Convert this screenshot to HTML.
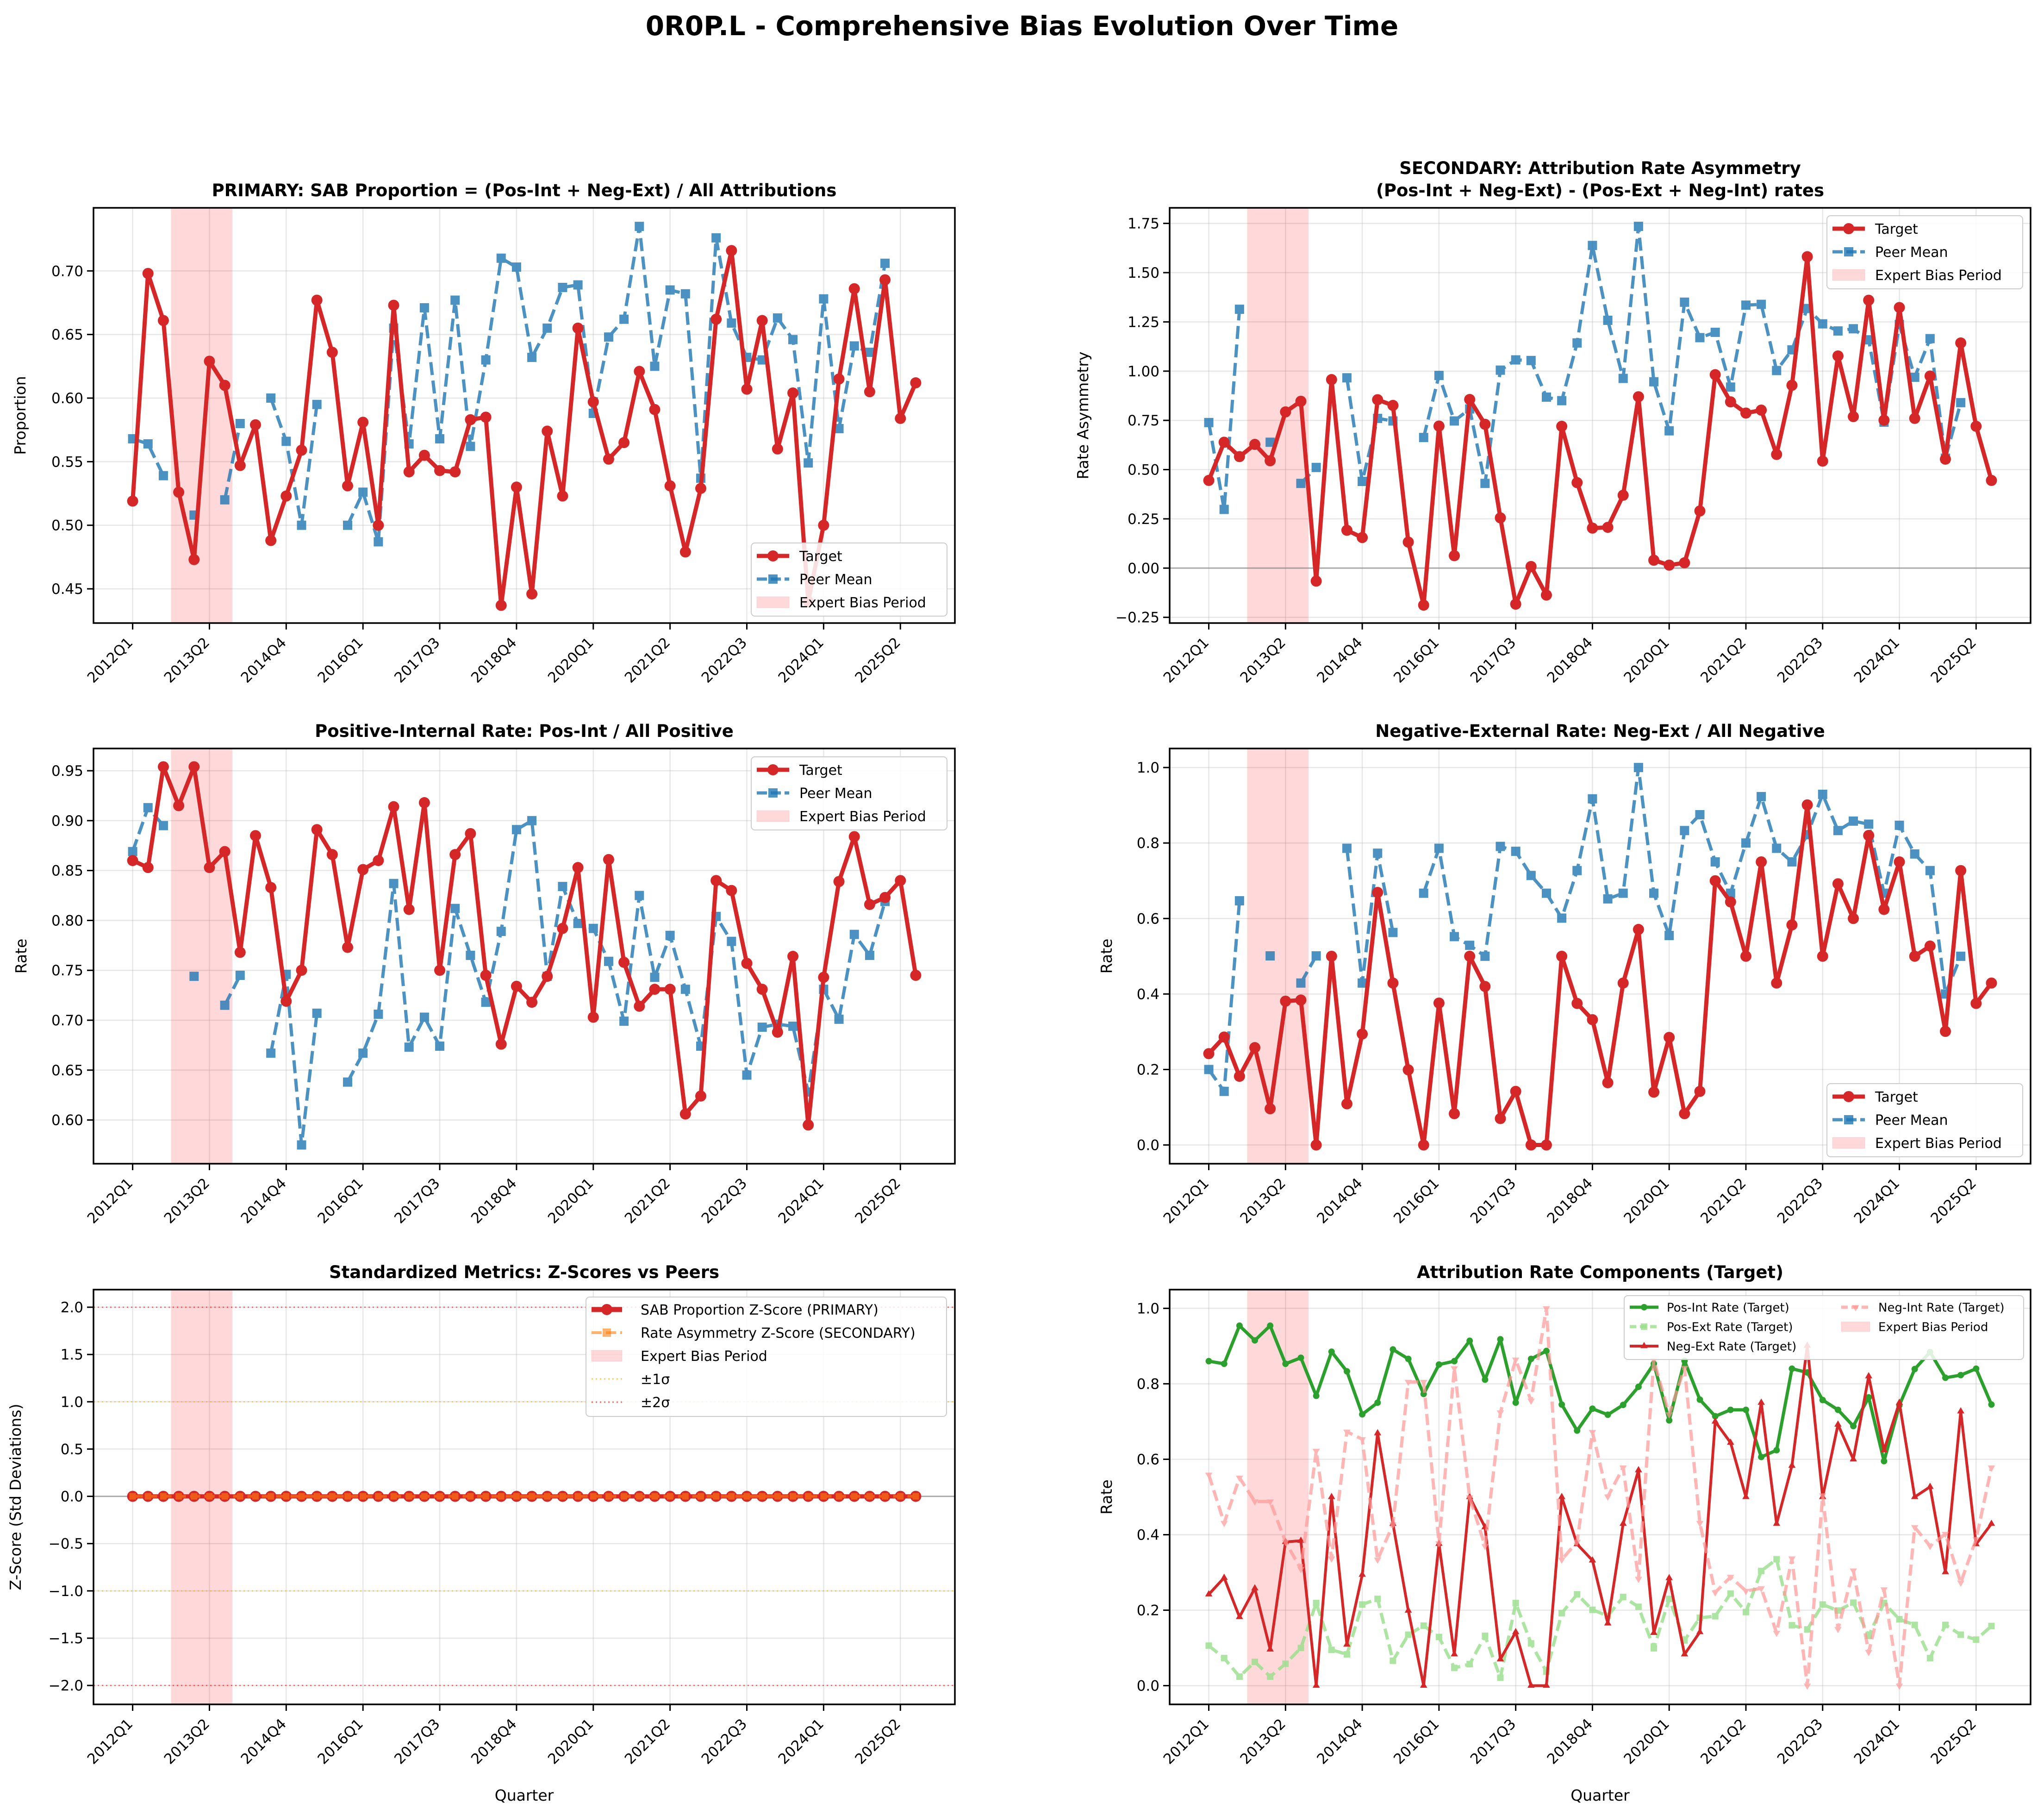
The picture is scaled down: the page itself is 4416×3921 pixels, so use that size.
<!DOCTYPE html>
<html><head><meta charset="utf-8">
<style>
html,body{margin:0;padding:0;background:#fff;}
svg{display:block;font-family:"DejaVu Sans","Liberation Sans",sans-serif;}
</style></head>
<body>
<svg id="fig" xmlns="http://www.w3.org/2000/svg" width="4416" height="3921" viewBox="0 0 4416 3921">
<rect width="4416" height="3921" fill="#fff"/>
<text x="2208" y="76" text-anchor="middle" font-size="58" font-weight="bold">0R0P.L - Comprehensive Bias Evolution Over Time</text>
</svg>
<script>
const tickIdx=[0,5,10,15,20,25,30,35,40,45,50];
const tickLabels=['2012Q1','2013Q2','2014Q4','2016Q1','2017Q3','2018Q4','2020Q1','2021Q2','2022Q3','2024Q1','2025Q2'];
const N=52;
const sabTarget=[0.519,0.698,0.661,0.526,0.473,0.629,0.610,0.547,0.579,0.488,0.523,0.559,0.677,0.636,0.531,0.581,0.500,0.673,0.542,0.555,0.543,0.542,0.583,0.585,0.437,0.530,0.446,0.574,0.523,0.655,0.597,0.552,0.565,0.621,0.591,0.531,0.479,0.529,0.662,0.716,0.607,0.661,0.560,0.604,0.440,0.500,0.615,0.686,0.605,0.693,0.584,0.612];
const sabPeer=[0.568,0.564,0.539,null,0.508,null,0.520,0.580,null,0.600,0.566,0.500,0.595,null,0.500,0.526,0.487,0.655,0.564,0.671,0.568,0.677,0.562,0.630,0.710,0.703,0.632,0.655,0.687,0.689,0.588,0.648,0.662,0.735,0.625,0.685,0.682,0.537,0.726,0.659,0.632,0.630,0.663,0.646,0.549,0.678,0.576,0.641,0.636,0.706,null,null];
const asymTarget=[0.445,0.639,0.566,0.628,0.545,0.793,0.847,-0.066,0.957,0.192,0.155,0.855,0.826,0.132,-0.188,0.721,0.063,0.856,0.730,0.255,-0.183,0.008,-0.137,0.720,0.434,0.203,0.207,0.370,0.870,0.040,0.015,0.027,0.290,0.982,0.844,0.787,0.802,0.577,0.928,1.581,0.543,1.077,0.769,1.360,0.751,1.323,0.760,0.975,0.553,1.143,0.720,0.445];
const asymPeer=[0.739,0.298,1.314,null,0.639,null,0.430,0.511,null,0.966,0.440,0.760,0.747,null,0.663,0.978,0.747,0.808,0.430,1.005,1.057,1.054,0.868,0.850,1.143,1.638,1.258,0.963,1.735,0.946,0.697,1.350,1.170,1.197,0.919,1.335,1.339,1.003,1.108,1.318,1.240,1.204,1.215,1.159,0.741,1.237,0.969,1.165,0.558,0.840,null,null];
const posIntTarget=[0.860,0.853,0.954,0.915,0.954,0.853,0.869,0.768,0.885,0.833,0.719,0.750,0.891,0.866,0.773,0.851,0.860,0.914,0.811,0.918,0.750,0.866,0.887,0.745,0.676,0.734,0.718,0.744,0.792,0.853,0.703,0.861,0.758,0.714,0.731,0.731,0.606,0.624,0.840,0.830,0.757,0.731,0.688,0.764,0.595,0.743,0.839,0.884,0.816,0.823,0.840,0.745];
const posIntPeer=[0.869,0.913,0.895,null,0.744,null,0.715,0.745,null,0.667,0.746,0.575,0.707,null,0.638,0.667,0.706,0.837,0.673,0.703,0.674,0.812,0.765,0.718,0.789,0.891,0.900,0.744,0.834,0.797,0.792,0.759,0.699,0.825,0.743,0.785,0.731,0.674,0.804,0.779,0.645,0.693,0.696,0.694,0.628,0.731,0.701,0.786,0.765,0.819,null,null];
const negExtTarget=[0.242,0.286,0.182,0.258,0.096,0.381,0.384,0,0.500,0.109,0.294,0.669,0.429,0.199,0,0.376,0.083,0.500,0.420,0.070,0.142,0,0,0.500,0.375,0.332,0.165,0.429,0.571,0.140,0.285,0.083,0.142,0.700,0.644,0.500,0.750,0.429,0.583,0.901,0.500,0.692,0.600,0.820,0.624,0.750,0.500,0.527,0.301,0.727,0.375,0.429];
const negExtPeer=[0.200,0.142,0.647,null,0.501,null,0.429,0.501,null,0.786,0.429,0.773,0.563,null,0.667,0.786,0.552,0.529,0.500,0.791,0.778,0.714,0.667,0.601,0.727,0.917,0.652,0.667,1.0,0.667,0.555,0.833,0.875,0.750,0.667,0.800,0.923,0.786,0.750,0.822,0.929,0.833,0.858,0.850,0.667,0.847,0.771,0.727,0.400,0.500,null,null];
const posExtTarget=[0.106,0.073,0.024,0.063,0.024,0.058,0.100,0.219,0.095,0.083,0.215,0.230,0.066,0.135,0.159,0.129,0.047,0.057,0.132,0.021,0.219,0.112,0.037,0.192,0.242,0.201,0.185,0.235,0.209,0.099,0.230,0.120,0.180,0.184,0.244,0.195,0.304,0.335,0.160,0.149,0.215,0.199,0.220,0.132,0.219,0.176,0.161,0.073,0.161,0.135,0.122,0.158];
const negIntTarget=[0.559,0.431,0.551,0.488,0.488,0.381,0.309,0.622,0.337,0.673,0.653,0.334,0.427,0.805,0.805,0.377,0.841,0.499,0.370,0.724,0.864,0.755,1.0,0.334,0.381,0.672,0.501,0.578,0.283,0.863,0.719,0.842,0.431,0.247,0.288,0.251,0.258,0.140,0.337,0.0,0.504,0.150,0.305,0.089,0.255,0.0,0.420,0.370,0.402,0.273,0.388,0.578];
const zSab=[0,0,0,0,0,0,0,0,0,0,0,0,0,0,0,0,0,0,0,0,0,0,0,0,0,0,0,0,0,0,0,0,0,0,0,0,0,0,0,0,0,0,0,0,0,0,0,0,0,0,0,0];
const zAsym=[0,0,0,0,0,0,0,0,0,0,0,0,0,0,0,0,0,0,0,0,0,0,0,0,0,0,0,0,0,0,0,0,0,0,0,0,0,0,0,0,0,0,0,0,0,0,0,0,0,0,0,0];
const bandStart=2.5, bandEnd=6.5;

const NS='http://www.w3.org/2000/svg';
const svg=document.getElementById('fig');
function el(tag,attrs,parent,txt){const e=document.createElementNS(NS,tag);for(const k in attrs)e.setAttribute(k,attrs[k]);if(txt!==undefined)e.textContent=txt;(parent||svg).appendChild(e);return e;}
function fmt(v,d){return v.toFixed(d).replace('-','\u2212');}

function makePanel(c){
  const g=el('g',{});
  
  
  const xs=i=>c.L+(i+2.55)/56.1*(c.R-c.L);
  const ys=v=>c.B-(v-c.ymin)/(c.ymax-c.ymin)*(c.B-c.T);
  // clip
  const cid='clip-'+c.name;
  const cp=el('clipPath',{id:cid},g);el('rect',{x:c.L,y:c.T,width:c.R-c.L,height:c.B-c.T},cp);
  // grid
  const grid=el('g',{stroke:'#b0b0b0','stroke-opacity':0.3,'stroke-width':2.5},g);
  
  
  tickIdx.forEach(i=>el('line',{x1:xs(i),x2:xs(i),y1:c.T,y2:c.B},grid));
  c.yticks.forEach(v=>el('line',{x1:c.L,x2:c.R,y1:ys(v),y2:ys(v)},grid));
  // band
  const band=el('rect',{x:xs(bandStart),y:c.T,width:xs(bandEnd)-xs(bandStart),height:c.B-c.T,fill:'#ff0000','fill-opacity':0.15},g);
  
  
  const plot=el('g',{'clip-path':'url(#'+cid+')'},g);
  if(c.hlines)c.hlines.forEach(h=>el('line',{x1:c.L,x2:c.R,y1:ys(h.v),y2:ys(h.v),stroke:h.color,'stroke-width':h.w,'stroke-opacity':h.op,'stroke-dasharray':h.dash||''},plot));
  c.series.forEach(s=>{
    const sg=el('g',{opacity:s.op||1},plot);
    
    
    let seg=[];const segs=[];
    s.data.forEach((v,i)=>{if(v===null){if(seg.length)segs.push(seg);seg=[];}else seg.push([xs(i),ys(v)]);});
    if(seg.length)segs.push(seg);
    segs.forEach(sp=>{if(sp.length>1)el('polyline',{points:sp.map(p=>p.join(',')).join(' '),fill:'none',stroke:s.color,'stroke-width':s.lw,'stroke-dasharray':s.dash||'','stroke-linejoin':'round'},sg);});
    s.data.forEach((v,i)=>{if(v===null)return;const x=xs(i),y=ys(v);let m;const r=s.ms;
      if(s.marker==='o')m=el('circle',{cx:x,cy:y,r:r,fill:s.mcolor||s.color},sg);
      else if(s.marker==='s')m=el('rect',{x:x-r,y:y-r,width:2*r,height:2*r,fill:s.mcolor||s.color},sg);
      else if(s.marker==='^')m=el('polygon',{points:`${x},${y-r} ${x-r*0.87},${y+r*0.5} ${x+r*0.87},${y+r*0.5}`,fill:s.mcolor||s.color},sg);
      else m=el('polygon',{points:`${x},${y+r} ${x-r*0.87},${y-r*0.5} ${x+r*0.87},${y-r*0.5}`,fill:s.mcolor||s.color},sg);
      
      
    });
  });
  // spines
  el('rect',{x:c.L,y:c.T,width:c.R-c.L,height:c.B-c.T,fill:'none',stroke:'#000','stroke-width':3.5},g);
  // x ticks
  const xa=el('g',{},g);
  
  
  tickIdx.forEach((i,k)=>{const x=xs(i);el('line',{x1:x,x2:x,y1:c.B,y2:c.B+14,stroke:'#000','stroke-width':3},xa);
    el('text',{x:0,y:0,'font-size':31,'text-anchor':'end',transform:`translate(${x+2},${c.B+44}) rotate(-45)`},xa,tickLabels[k]);});
  const ya=el('g',{},g);
  
  
  c.yticks.forEach(v=>{const y=ys(v);el('line',{x1:c.L-14,x2:c.L,y1:y,y2:y,stroke:'#000','stroke-width':3},ya);
    el('text',{x:c.L-22,y:y+11,'font-size':31,'text-anchor':'end'},ya,fmt(v,c.yd));});
  const yl=el('text',{x:0,y:0,'font-size':33,'text-anchor':'middle',transform:`translate(${c.ylx},${(c.T+c.B)/2}) rotate(-90)`},g,c.ylabel);
  
  
  if(c.xlabel){const xl=el('text',{x:(c.L+c.R)/2,y:3890,'font-size':33,'text-anchor':'middle'},g,c.xlabel);
    
    }
  c.title.forEach((t,k)=>{const te=el('text',{x:(c.L+c.R)/2,y:c.T-25-(c.title.length-1-k)*48,'font-size':37,'font-weight':'bold','text-anchor':'middle'},g,t);
    
    });
  // legend
  const lg=c.legend;const lgg=el('g',{},g);
  
  
  el('rect',{x:lg.x,y:lg.y,width:lg.w,height:lg.h,rx:8,fill:'#fff','fill-opacity':0.85,stroke:'#cccccc','stroke-width':2},lgg);
  lg.items.forEach((it,k)=>{const col=lg.cols?Math.floor(k/lg.rows):0,row=lg.cols?k%lg.rows:k;
    const hx=lg.x+12+col*(lg.colw||0),cy=lg.y+lg.first+row*lg.sp;
    const eg=el('g',{},lgg);
    
    
    const hw=lg.hw||70;
    if(it.patch)el('rect',{x:hx,y:cy-lg.fs*0.4,width:hw,height:lg.fs*0.8,fill:'#ff0000','fill-opacity':0.15,stroke:'#ff0000','stroke-opacity':0.1},eg);
    else{el('line',{x1:hx,x2:hx+hw,y1:cy,y2:cy,stroke:it.color,'stroke-width':it.lw,'stroke-dasharray':it.dash||'','stroke-opacity':it.op||1},eg);
      const mx=hx+hw/2,r=it.ms||0;
      if(it.marker==='o')el('circle',{cx:mx,cy:cy,r:r,fill:it.color,'fill-opacity':it.op||1},eg);
      if(it.marker==='s')el('rect',{x:mx-r,y:cy-r,width:2*r,height:2*r,fill:it.color,'fill-opacity':it.op||1},eg);
      if(it.marker==='^')el('polygon',{points:`${mx},${cy-r} ${mx-r*.87},${cy+r*.5} ${mx+r*.87},${cy+r*.5}`,fill:it.color},eg);
      if(it.marker==='v')el('polygon',{points:`${mx},${cy+r} ${mx-r*.87},${cy-r*.5} ${mx+r*.87},${cy-r*.5}`,fill:it.color,'fill-opacity':it.op||1},eg);}
    el('text',{x:hx+hw+lg.tg,y:cy+lg.fs*0.36,'font-size':lg.fs},eg,it.label);
  });
}
const RED='#d62728',BLUE='#1f77b4';
const tgt=d=>({name:'target-line',data:d,color:RED,lw:9,marker:'o',ms:12});
const peer=d=>({name:'peer-mean-line',data:d,color:BLUE,lw:7,dash:'28 12',marker:'s',ms:10,op:0.8});
const stdLeg=[{label:'Target',color:RED,lw:9,marker:'o',ms:12},{label:'Peer Mean',color:BLUE,lw:7,dash:'22 8',marker:'s',ms:10,op:0.8},{label:'Expert Bias Period',patch:true}];
const legL=(x,y)=>({x:x,y:y,w:423,h:158,first:28,sp:50,fs:30,tg:22,hw:70,items:stdLeg});
const rng=(a,b,s)=>{const r=[];for(let v=a;v<=b+1e-9;v+=s)r.push(Math.round(v*1000)/1000);return r;};

makePanel({name:'sab-proportion-panel',L:202,R:2063,T:449,B:1346,ymin:0.4231,ymax:0.7496,yticks:rng(0.45,0.70,0.05),yd:2,ylx:55,ylabel:'Proportion',
 title:['PRIMARY: SAB Proportion = (Pos-Int + Neg-Ext) / All Attributions'],series:[peer(sabPeer),tgt(sabTarget)],legend:legL(1623,1173)});
makePanel({name:'rate-asymmetry-panel',L:2527,R:4387,T:449,B:1346,ymin:-0.279,ymax:1.829,yticks:rng(-0.25,1.75,0.25),yd:2,ylx:2351,ylabel:'Rate Asymmetry',
 title:['SECONDARY: Attribution Rate Asymmetry','(Pos-Int + Neg-Ext) - (Pos-Ext + Neg-Int) rates'],hlines:[{v:0,color:'#808080',w:3,op:0.6}],series:[peer(asymPeer),tgt(asymTarget)],legend:legL(3947,466)});
makePanel({name:'positive-internal-panel',L:202,R:2063,T:1617,B:2514,ymin:0.5562,ymax:0.9723,yticks:rng(0.60,0.95,0.05),yd:2,ylx:57,ylabel:'Rate',
 title:['Positive-Internal Rate: Pos-Int / All Positive'],series:[peer(posIntPeer),tgt(posIntTarget)],legend:legL(1623,1635)});
makePanel({name:'negative-external-panel',L:2527,R:4387,T:1617,B:2514,ymin:-0.0496,ymax:1.0504,yticks:rng(0,1,0.2),yd:1,ylx:2402,ylabel:'Rate',
 title:['Negative-External Rate: Neg-Ext / All Negative'],series:[peer(negExtPeer),tgt(negExtTarget)],legend:legL(3947,2341)});
makePanel({name:'z-score-panel',L:202,R:2063,T:2786,B:3682,ymin:-2.2,ymax:2.186,yticks:rng(-2,2,0.5),yd:1,ylx:45,ylabel:'Z-Score (Std Deviations)',xlabel:'Quarter',
 title:['Standardized Metrics: Z-Scores vs Peers'],
 hlines:[{v:0,color:'#808080',w:3,op:0.6},{v:1,color:'#ffa500',w:2.5,op:0.6,dash:'3 6'},{v:-1,color:'#ffa500',w:2.5,op:0.6,dash:'3 6'},{v:2,color:'#ff0000',w:2.5,op:0.6,dash:'3 6'},{v:-2,color:'#ff0000',w:2.5,op:0.6,dash:'3 6'}],
 series:[{name:'sab-zscore-line',data:zSab,color:RED,lw:9,marker:'o',ms:12},{name:'asym-zscore-line',data:zAsym,color:'#ff7f0e',lw:6,dash:'22 9',marker:'s',ms:7,op:0.6}],
 legend:{x:1266,y:2802,w:779,h:258,first:27,sp:50,fs:30,tg:40,hw:66,items:[
  {label:'SAB Proportion Z-Score (PRIMARY)',color:RED,lw:11,marker:'o',ms:12},
  {label:'Rate Asymmetry Z-Score (SECONDARY)',color:'#ff7f0e',lw:6,dash:'22 9',marker:'s',ms:9,op:0.6},
  {label:'Expert Bias Period',patch:true},
  {label:'\u00b11\u03c3',color:'#ffa500',lw:3,dash:'3 6',op:0.6},
  {label:'\u00b12\u03c3',color:'#ff0000',lw:3,dash:'3 6',op:0.6}]}});
makePanel({name:'rate-components-panel',L:2527,R:4387,T:2786,B:3682,ymin:-0.0496,ymax:1.0496,yticks:rng(0,1,0.2),yd:1,ylx:2402,ylabel:'Rate',xlabel:'Quarter',
 title:['Attribution Rate Components (Target)'],
 series:[{name:'pos-int-rate-line',data:posIntTarget,color:'#2ca02c',lw:7,marker:'o',ms:7},
  {name:'pos-ext-rate-line',data:posExtTarget,color:'#98df8a',lw:7,dash:'24 11',marker:'s',ms:7,op:0.8},
  {name:'neg-ext-rate-line',data:negExtTarget,color:RED,lw:6,marker:'^',ms:9},
  {name:'neg-int-rate-line',data:negIntTarget,color:'#ff9896',lw:7,dash:'24 11',marker:'v',ms:9,op:0.7}],
 legend:{x:3509,y:2799,w:863,h:138,first:25,sp:42,fs:26,tg:18,hw:62,cols:2,rows:3,colw:457,items:[
  {label:'Pos-Int Rate (Target)',color:'#2ca02c',lw:7,marker:'o',ms:7},
  {label:'Pos-Ext Rate (Target)',color:'#98df8a',lw:7,dash:'14 8',marker:'s',ms:7,op:0.8},
  {label:'Neg-Ext Rate (Target)',color:RED,lw:6,marker:'^',ms:9},
  {label:'Neg-Int Rate (Target)',color:'#ff9896',lw:7,dash:'14 8',marker:'v',ms:9,op:0.7},
  {label:'Expert Bias Period',patch:true}]}});
</script>
</body></html>
